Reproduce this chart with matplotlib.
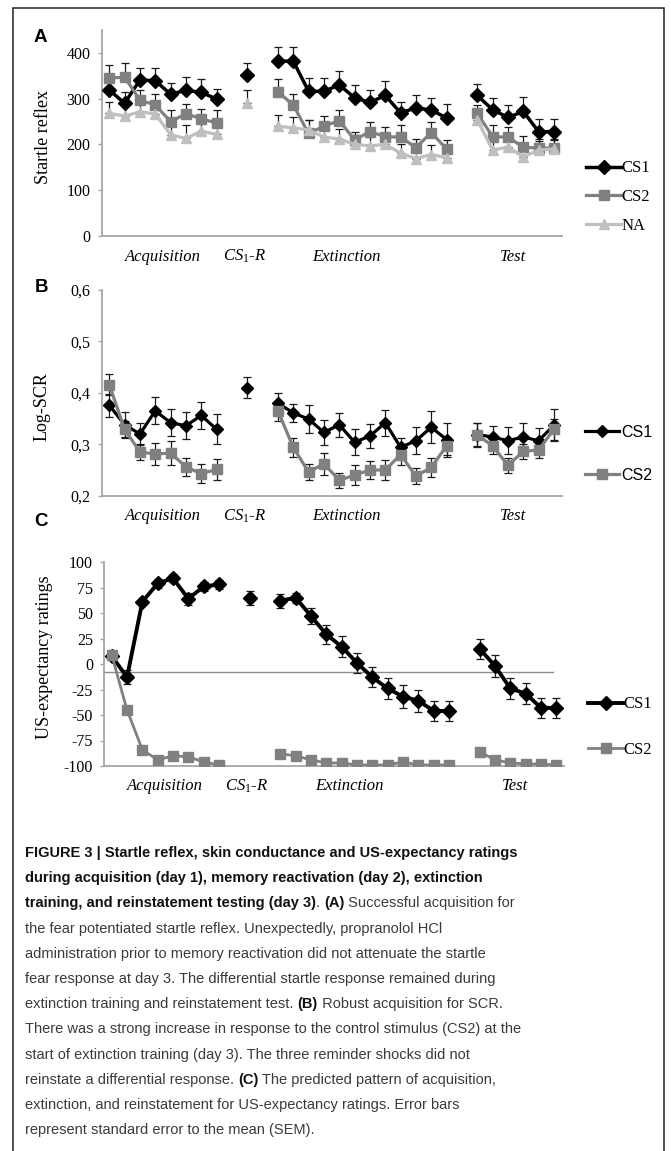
import numpy as np
import matplotlib
matplotlib.use("Agg")
from matplotlib import pyplot as plt
from matplotlib.patches import Rectangle
from matplotlib.ticker import FuncFormatter, MultipleLocator

plt.rcParams['font.family'] = ['Liberation Serif', 'DejaVu Serif']
plt.rcParams['mathtext.fontset'] = 'custom'
plt.rcParams['mathtext.rm'] = 'Liberation Serif'
plt.rcParams['mathtext.it'] = 'Liberation Serif:italic'

W, H = 671, 1151

# 30 slots: acquisition 0-7, reactivation 9, extinction 11-22, test 24-29
phases = ['Acquisition', '$CS_1$-R', 'Extinction', 'Test']
phase_pos = [4.0, 9.3, 16.0, 26.8]

# ---- A: startle reflex
a_cs1_acq = [319, 290, 341, 339, 310, 318, 314, 299]
a_cs1_acq_err = [25, 25, 25, 27, 24, 29, 29, 22]
a_cs1_r = [351]
a_cs1_r_err = [28]
a_cs1_ext = [382, 382, 316, 316, 330, 302, 292, 307, 269, 280, 275, 258]
a_cs1_ext_err = [30, 30, 29, 29, 31, 28, 28, 31, 24, 28, 27, 31]
a_cs1_test = [307, 276, 259, 272, 228, 228]
a_cs1_test_err = [25, 25, 27, 31, 27, 27]

a_cs2_acq = [345, 347, 297, 286, 250, 267, 256, 247]
a_cs2_acq_err = [29, 31, 22, 25, 25, 22, 22, 28]
a_cs2_ext = [315, 286, 224, 240, 252, 210, 228, 217, 216, 193, 226, 190]
a_cs2_ext_err = [29, 25, 30, 22, 23, 18, 22, 22, 27, 18, 22, 20]
a_cs2_test = [268, 217, 216, 194, 192, 192]
a_cs2_test_err = [18, 25, 22, 25, 20, 20]

a_na_acq = [268, 262, 271, 267, 221, 213, 229, 222]
a_na_acq_err = [25, 22, 22, 22, 22, 29, 22, 22]
a_na_r = [291]
a_na_r_err = [28]
a_na_ext = [240, 236, 232, 216, 212, 200, 197, 200, 181, 169, 178, 171]
a_na_ext_err = [25, 25, 22, 22, 22, 20, 20, 20, 20, 20, 20, 20]
a_na_test = [254, 188, 194, 173, 188, 190]
a_na_test_err = [20, 20, 20, 20, 20, 20]

# ---- B: log SCR
b_cs1_acq = [0.376, 0.338, 0.320, 0.365, 0.342, 0.336, 0.356, 0.329]
b_cs1_acq_err = [0.022, 0.024, 0.022, 0.026, 0.026, 0.026, 0.026, 0.029]
b_cs1_r = [0.410]
b_cs1_r_err = [0.020]
b_cs1_ext = [0.380, 0.361, 0.349, 0.323, 0.338, 0.304, 0.316, 0.342, 0.294, 0.307, 0.333, 0.309]
b_cs1_ext_err = [0.020, 0.018, 0.028, 0.025, 0.023, 0.025, 0.024, 0.025, 0.018, 0.026, 0.031, 0.033]
b_cs1_test = [0.319, 0.314, 0.307, 0.314, 0.307, 0.337]
b_cs1_test_err = [0.023, 0.021, 0.026, 0.027, 0.024, 0.031]

b_cs2_acq = [0.416, 0.329, 0.285, 0.281, 0.283, 0.256, 0.243, 0.251]
b_cs2_acq_err = [0.020, 0.016, 0.015, 0.021, 0.023, 0.018, 0.018, 0.021]
b_cs2_ext = [0.365, 0.294, 0.246, 0.262, 0.230, 0.240, 0.250, 0.250, 0.280, 0.238, 0.255, 0.297]
b_cs2_ext_err = [0.020, 0.018, 0.015, 0.021, 0.015, 0.020, 0.018, 0.020, 0.020, 0.015, 0.018, 0.018]
b_cs2_test = [0.318, 0.297, 0.259, 0.286, 0.289, 0.329]
b_cs2_test_err = [0.023, 0.015, 0.015, 0.015, 0.015, 0.020]

# ---- C: US-expectancy ratings
c_cs1_acq = [8, -13, 61, 79, 84, 64, 76, 78]
c_cs1_acq_err = [3, 7, 3, 4, 4, 6, 4, 4]
c_cs1_r = [65]
c_cs1_r_err = [7]
c_cs1_ext = [62, 65, 47, 29, 17, 1, -13, -24, -32, -36, -46, -46]
c_cs1_ext_err = [7, 5, 8, 9, 10, 10, 10, 10, 11, 11, 10, 10]
c_cs1_test = [15, -2, -24, -29, -43, -43]
c_cs1_test_err = [10, 11, 10, 10, 10, 10]

c_cs2_acq = [9, -45, -84, -94, -90, -91, -96, -99]
c_cs2_ext = [-88, -90, -94, -97, -97, -99, -99, -99, -96, -99, -99, -99]
c_cs2_test = [-86, -94, -97, -98, -98, -99]

c_ref_level = -8


def build(acq, react, ext, test):
    gap = [np.nan]
    r = react if react is not None else gap
    return np.array(list(acq) + gap + list(r) + gap + list(ext) + gap + list(test), dtype=float)


x = np.arange(30) + 0.5

fig = plt.figure(figsize=(W / 100, H / 100), dpi=100)

axA = fig.add_axes([101.6 / W, 1 - 236 / H, 460 / W, 206 / H])
axB = fig.add_axes([101.6 / W, 1 - 495.7 / H, 460 / W, 205.7 / H])
axC = fig.add_axes([104 / W, 1 - 766 / H, 460 / W, 204 / H])

black = '#000000'
mid = '#808080'
light = '#bfbfbf'
spine = '#a6a6a6'


def style(ax):
    for s in ['top', 'right']:
        ax.spines[s].set_visible(False)
    ax.spines['left'].set_color(spine)
    ax.spines['bottom'].set_color(spine)
    ax.spines['left'].set_linewidth(1.3)
    ax.spines['bottom'].set_linewidth(1.3)
    ax.set_xlim(0, 30)
    ax.set_xticks([])
    ax.tick_params(axis='y', direction='out', length=3, width=1, color=spine,
                   labelsize=11.5, pad=5)
    for p, lab in zip(phase_pos, phases):
        ax.text(p, -0.1, lab, transform=ax.get_xaxis_transform(), ha='center', va='center',
                fontsize=12, fontstyle='italic')


def series(ax, y, err, color, marker, ms, lw, label, up_only):
    ax.plot(x, y, color=color, lw=lw, marker=marker, ms=ms, mec=color, mfc=color,
            label=label, solid_joinstyle='miter', zorder=3)
    if err is not None:
        if up_only:
            yerr = [np.zeros_like(err), err]
        else:
            yerr = err
        ax.errorbar(x, y, yerr=yerr, fmt='none', ecolor='#1a1a1a', elinewidth=0.9,
                    capsize=2.6, capthick=0.9, zorder=2)


# Panel A
series(axA, build(a_cs1_acq, a_cs1_r, a_cs1_ext, a_cs1_test),
       build(a_cs1_acq_err, a_cs1_r_err, a_cs1_ext_err, a_cs1_test_err),
       black, 'D', 6.8, 2.5, 'CS1', True)
series(axA, build(a_cs2_acq, None, a_cs2_ext, a_cs2_test),
       build(a_cs2_acq_err, None, a_cs2_ext_err, a_cs2_test_err),
       mid, 's', 7.2, 2.3, 'CS2', True)
series(axA, build(a_na_acq, a_na_r, a_na_ext, a_na_test),
       build(a_na_acq_err, a_na_r_err, a_na_ext_err, a_na_test_err),
       light, '^', 7.8, 2.3, 'NA', True)
style(axA)
axA.set_ylim(0, 450)
axA.yaxis.set_major_locator(MultipleLocator(100))
axA.legend(loc='center left', bbox_to_anchor=(586 / W, 1 - 197 / H), bbox_transform=fig.transFigure,
           frameon=False, fontsize=12, handlelength=2.1, handletextpad=0.05, labelspacing=0.75,
           borderpad=0, borderaxespad=0)

# Panel B
series(axB, build(b_cs1_acq, b_cs1_r, b_cs1_ext, b_cs1_test),
       build(b_cs1_acq_err, b_cs1_r_err, b_cs1_ext_err, b_cs1_test_err),
       black, 'D', 6.5, 2.3, 'CS1', False)
series(axB, build(b_cs2_acq, None, b_cs2_ext, b_cs2_test),
       build(b_cs2_acq_err, None, b_cs2_ext_err, b_cs2_test_err),
       mid, 's', 7, 2.3, 'CS2', False)
style(axB)
axB.set_ylim(0.2, 0.6)
axB.yaxis.set_major_locator(MultipleLocator(0.1))
axB.yaxis.set_major_formatter(FuncFormatter(lambda v, p: f'{v:.1f}'.replace('.', ',')))
axB.legend(loc='center left', bbox_to_anchor=(585 / W, 1 - 454 / H), bbox_transform=fig.transFigure,
           frameon=False, prop={'family': 'Liberation Sans', 'size': 11.5},
           handlelength=2.1, handletextpad=0.15, labelspacing=1.75, borderpad=0, borderaxespad=0)

# Panel C
axC.plot([0, 29.3], [c_ref_level, c_ref_level], color='#8c8c8c', lw=1, zorder=1)
series(axC, build(c_cs1_acq, c_cs1_r, c_cs1_ext, c_cs1_test),
       build(c_cs1_acq_err, c_cs1_r_err, c_cs1_ext_err, c_cs1_test_err),
       black, 'D', 7, 2.8, 'CS1', False)
series(axC, build(c_cs2_acq, None, c_cs2_ext, c_cs2_test), None,
       mid, 's', 7.5, 2.0, 'CS2', False)
style(axC)
axC.set_ylim(-100, 100)
axC.yaxis.set_major_locator(MultipleLocator(25))
axC.yaxis.set_major_formatter(FuncFormatter(lambda v, p: f'{int(round(v))}'))
axC.legend(loc='center left', bbox_to_anchor=(588 / W, 1 - 727 / H), bbox_transform=fig.transFigure,
           frameon=False, fontsize=12, handlelength=2.1, handletextpad=0.05, labelspacing=1.75,
           borderpad=0, borderaxespad=0)

# y labels and panel letters
fig.text(43 / W, 1 - 137 / H, 'Startle reflex', rotation=90, ha='center', va='center', fontsize=13)
fig.text(42 / W, 1 - 407 / H, 'Log-SCR', rotation=90, ha='center', va='center', fontsize=13)
fig.text(45 / W, 1 - 657 / H, 'US-expectancy ratings', rotation=90, ha='center', va='center', fontsize=13)
for lab, (px, py) in zip('ABC', [(40, 37), (41, 288), (41, 522)]):
    fig.text(px / W, 1 - py / H, lab, ha='center', va='center', fontsize=13.5,
             fontweight='bold', family='Liberation Sans')

# frame
fig.add_artist(Rectangle((13 / W, -0.01), (664 - 13) / W, 1.01 - 8 / H, transform=fig.transFigure,
                         fill=False, edgecolor='#231f20', lw=1.1))

# caption
caption = [
    [("FIGURE 3 | Startle reflex, skin conductance and US-expectancy ratings", True)],
    [("during acquisition (day 1), memory reactivation (day 2), extinction", True)],
    [("training, and reinstatement testing (day 3)", True), (". ", False), ("(A)", True),
     (" Successful acquisition for", False)],
    [("the fear potentiated startle reflex. Unexpectedly, propranolol HCl", False)],
    [("administration prior to memory reactivation did not attenuate the startle", False)],
    [("fear response at day 3. The differential startle response remained during", False)],
    [("extinction training and reinstatement test. ", False), ("(B)", True),
     (" Robust acquisition for SCR.", False)],
    [("There was a strong increase in response to the control stimulus (CS2) at the", False)],
    [("start of extinction training (day 3). The three reminder shocks did not", False)],
    [("reinstate a differential response. ", False), ("(C)", True),
     (" The predicted pattern of acquisition,", False)],
    [("extinction, and reinstatement for US-expectancy ratings. Error bars", False)],
    [("represent standard error to the mean (SEM).", False)],
]

cap_font = 'Liberation Sans'
renderer = fig.canvas.get_renderer()
# size the caption so its lines span the same width as in the original
probe = fig.text(0, 0, caption[4][0][0], fontsize=12.0, family=cap_font)
cap_size = 12.0 * 458 / probe.get_window_extent(renderer).width
probe.remove()

y0 = 853
for i, parts in enumerate(caption):
    xp = 25 / W
    yp = 1 - (y0 + i * 25.2) / H
    for txt, bold in parts:
        t = fig.text(xp, yp, txt, ha='left', va='center', fontsize=cap_size, family=cap_font,
                     fontweight='bold' if bold else 'normal',
                     color='#111111' if bold else '#3a3a3a')
        xp += t.get_window_extent(renderer).width / W

fig.savefig('out.png', dpi=100)
